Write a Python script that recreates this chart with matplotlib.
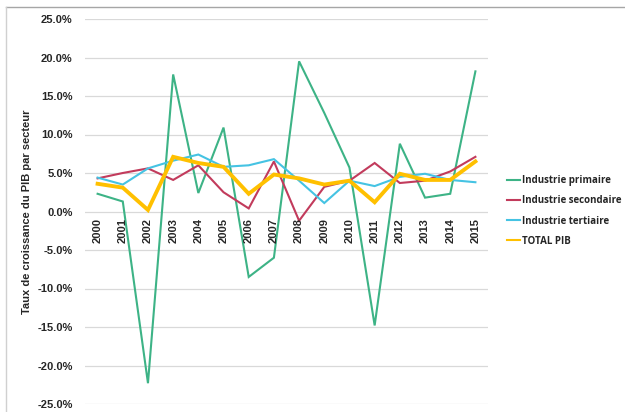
import matplotlib
matplotlib.use("Agg")
import matplotlib.pyplot as plt
from matplotlib.lines import Line2D
from matplotlib.ticker import FuncFormatter

# taux de croissance annuels (%)
annees = [str(a) for a in range(2000, 2016)]
primaire = [2.3, 1.3, -22.3, 17.8, 2.4, 10.9, -8.5, -6.0, 19.5, 12.8, 5.7, -14.8, 8.8, 1.8, 2.3, 18.2]
secondaire = [4.3, 5.0, 5.6, 4.1, 6.0, 2.5, 0.4, 6.5, -1.2, 3.2, 4.0, 6.3, 3.7, 4.0, 5.2, 7.1]
tertiaire = [4.4, 3.5, 5.6, 6.6, 7.4, 5.8, 6.0, 6.8, 4.0, 1.1, 4.0, 3.3, 4.5, 4.9, 4.1, 3.8]
total = [3.6, 3.1, 0.2, 7.1, 6.3, 5.8, 2.3, 4.8, 4.3, 3.5, 4.0, 1.2, 4.9, 4.1, 4.1, 6.5]

series = [
    ("Industrie primaire", primaire, "#3db386", 1.5),
    ("Industrie secondaire", secondaire, "#c23b5c", 1.5),
    ("Industrie tertiaire", tertiaire, "#45c3e3", 1.5),
    ("TOTAL PIB", total, "#ffc000", 2.8),
]

fig = plt.figure(figsize=(6.25, 4.12), dpi=100)
ax = fig.add_axes([85 / 625, 8 / 412, 403 / 625, 385 / 412])

x = list(range(len(annees)))
for nom, vals, couleur, lw in series:
    ax.plot(x, vals, color=couleur, lw=lw, label=nom, solid_joinstyle="miter")

ax.set_xlim(-0.5, len(annees) - 0.5)
ax.set_ylim(-25, 25)
ax.set_yticks(range(-25, 30, 5))
ax.yaxis.set_major_formatter(FuncFormatter(lambda v, p: f"{v:.1f}%"))
ax.grid(axis="y", color="#d9d9d9", lw=0.9)
ax.set_axisbelow(True)
for s in ax.spines.values():
    s.set_visible(False)
ax.tick_params(axis="y", length=0, pad=9)
for lab in ax.get_yticklabels():
    lab.set_fontfamily("Liberation Sans")
    lab.set_fontweight("bold")
    lab.set_fontsize(8)
    lab.set_color("#262626")

# étiquettes des années sur la ligne du zéro
ax.set_xticks([])
for i, a in enumerate(annees):
    ax.text(i, -0.9, a, rotation=90, ha="center", va="top",
            fontsize=8, fontweight="bold", family="Liberation Sans", color="#262626")

ax.set_ylabel("Taux de croissance du PIB par secteur", fontsize=8, fontweight="bold",
              family="Liberation Sans", color="#262626", labelpad=4)

leg = fig.legend(loc="center left", bbox_to_anchor=(498 / 625, 1 - 211 / 412),
                 frameon=False, handlelength=1.4, handletextpad=0.2,
                 labelspacing=0.95, prop={"family": "Open Sans", "weight": "bold", "size": 7})
for t in leg.get_texts():
    t.set_color("#262626")
for h in leg.get_lines():
    h.set_linewidth(1.5)

# cadre du graphique
fig.add_artist(Line2D([6 / 625, 1], [1 - 7 / 412, 1 - 7 / 412], color="#a6a6a6", lw=1))
fig.add_artist(Line2D([6 / 625, 6 / 625], [0, 1 - 7 / 412], color="#d0d0d0", lw=1))

fig.savefig("out.png", dpi=100)
